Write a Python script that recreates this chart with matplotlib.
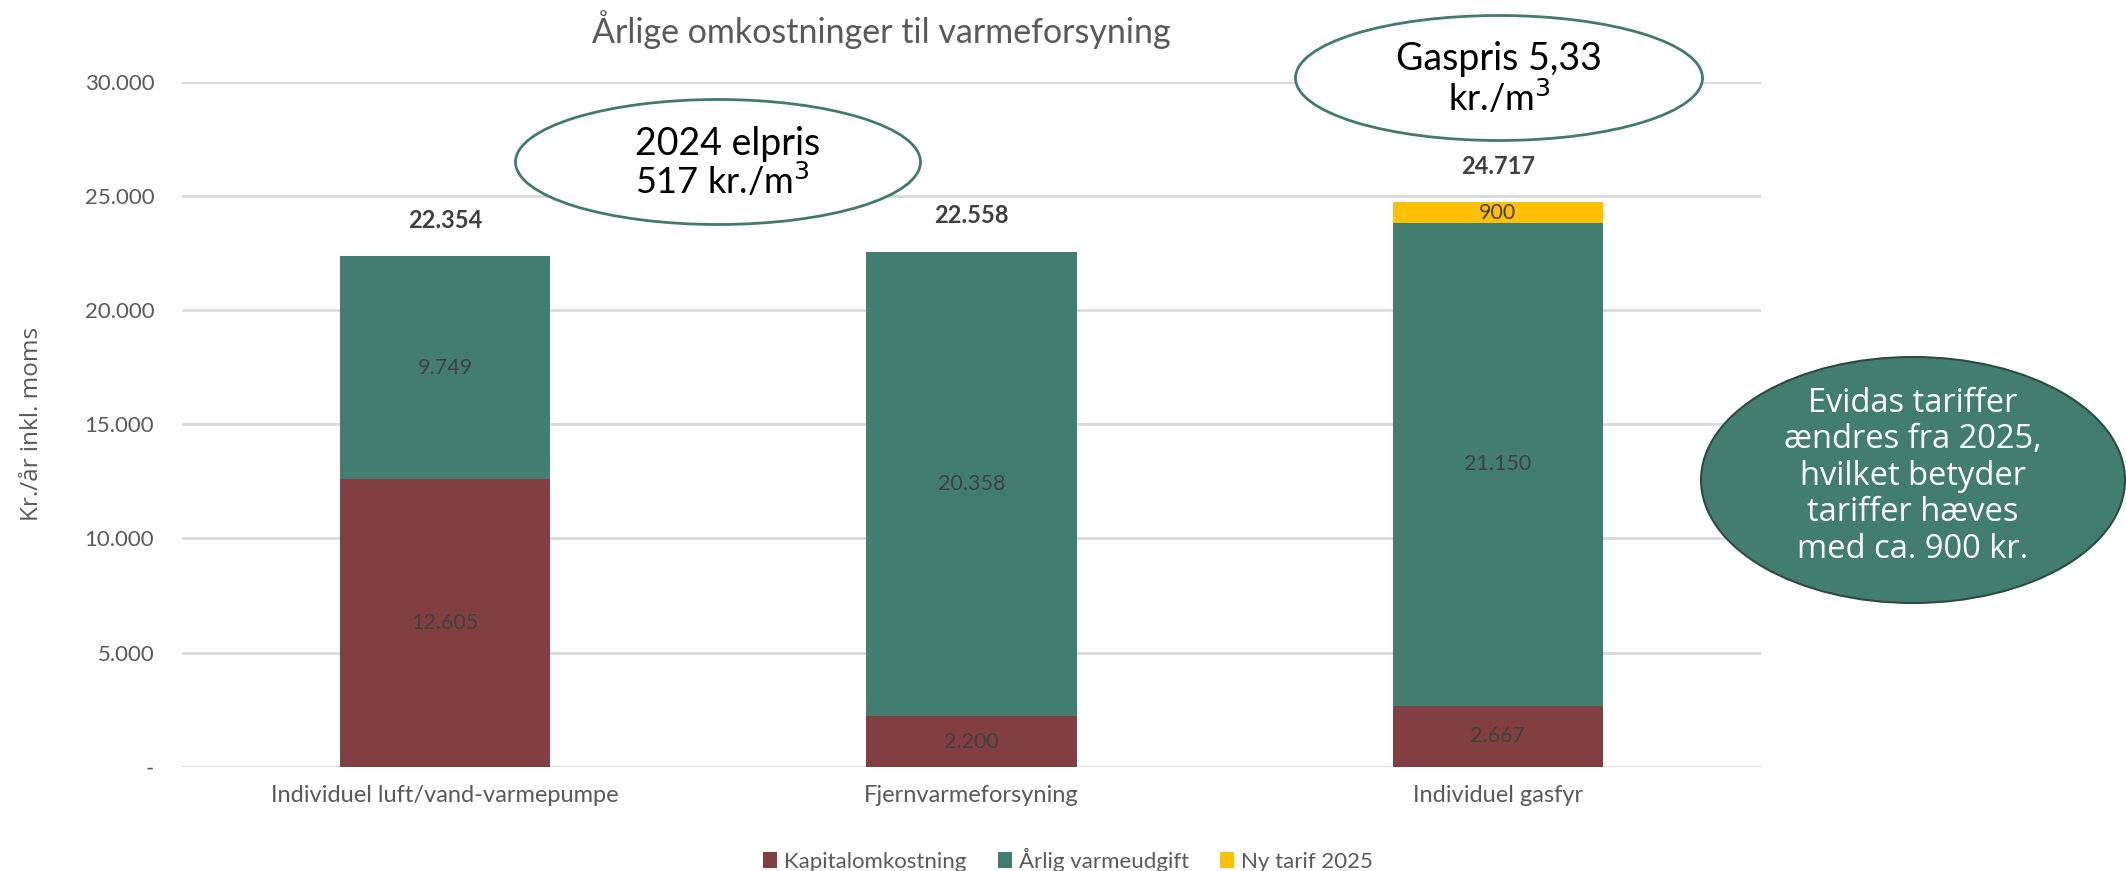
import matplotlib
matplotlib.use("Agg")
import matplotlib.pyplot as plt
from matplotlib.patches import Ellipse, Patch
import numpy as np

categories = ["Individuel luft/vand-varmepumpe", "Fjernvarmeforsyning", "Individuel gasfyr"]
kapital = [12605, 2200, 2667]
varme = [9749, 20358, 21150]
tarif = [0, 0, 900]
series_names = ["Kapitalomkostning", "Årlig varmeudgift", "Ny tarif 2025"]
yticks = [0, 5000, 10000, 15000, 20000, 25000, 30000]

C_KAP = "#823F41"
C_VAR = "#417E6F"
C_TAR = "#FFC000"
TXT = "#595959"
LBL = "#404040"

plt.rcParams["font.family"] = ["Lato", "DejaVu Sans"]

W, H = 2126, 871
fig = plt.figure(figsize=(W / 100, H / 100), dpi=100)
ax = fig.add_axes([182 / W, 1 - 766.7 / H, (1761 - 182) / W, (766.7 - 81.7) / H])

x = np.arange(len(categories))
bw = 0.4
ax.bar(x, kapital, bw, color=C_KAP, zorder=3)
ax.bar(x, varme, bw, bottom=kapital, color=C_VAR, zorder=3)
bottom3 = [a + b for a, b in zip(kapital, varme)]
ax.bar(x, tarif, bw, bottom=bottom3, color=C_TAR, zorder=3)

def fmt(v):
    if v == 0:
        return "-"
    return f"{v:,.0f}".replace(",", ".")

for i in range(len(categories)):
    ax.text(x[i], kapital[i] / 2, fmt(kapital[i]), ha="center", va="center",
            fontsize=15.5, color=LBL, zorder=4)
    ax.text(x[i], kapital[i] + varme[i] / 2, fmt(varme[i]), ha="center", va="center",
            fontsize=15.5, color=LBL, zorder=4)
    if tarif[i] > 0:
        ax.text(x[i], bottom3[i] + tarif[i] / 2, fmt(tarif[i]), ha="center", va="center",
                fontsize=15.5, color=LBL, zorder=4)
    total = kapital[i] + varme[i] + tarif[i]
    ax.annotate(fmt(total), (x[i], total), xytext=(0, 26), textcoords="offset points",
                ha="center", va="center", fontsize=17, fontweight="bold", color=LBL, zorder=4)

ax.set_xlim(-0.5, 2.5)
ax.set_ylim(0, 30000)
ax.set_yticks(yticks)
ax.set_yticklabels([fmt(v) for v in yticks], fontsize=16, color=TXT)
ax.set_xticks(x)
ax.set_xticklabels(categories, fontsize=17, color=TXT)
ax.tick_params(axis="y", length=0, pad=20)
ax.tick_params(axis="x", length=0, pad=13)
ax.grid(axis="y", color="#D9D9D9", linewidth=2, zorder=0)
for s in ax.spines.values():
    s.set_visible(False)

ax.set_ylabel("Kr./år inkl. moms", fontsize=17.5, color=TXT, family=["Open Sans", "DejaVu Sans"])
ax.yaxis.set_label_coords((44 - 182) / (1761 - 182), (766.7 - 424) / (766.7 - 81.7))

fig.text(881 / W, 1 - 30 / H, "Årlige omkostninger til varmeforsyning", ha="center", va="center",
         fontsize=24.5, color=TXT)

handles = [Patch(facecolor=c) for c in (C_KAP, C_VAR, C_TAR)]
fig.legend(handles, series_names, loc="center", bbox_to_anchor=(1068 / W, 1 - 860 / H), ncol=3,
           frameon=False, fontsize=16, labelcolor=TXT, handlelength=0.65, handleheight=0.75,
           handletextpad=0.3, columnspacing=1.4)

def fe(cx, cy, w, h, **kw):
    e = Ellipse((cx / W, 1 - cy / H), w / W, h / H, transform=fig.transFigure, **kw)
    fig.add_artist(e)

fe(718, 162, 405, 125, facecolor="white", edgecolor="#3E7C6E", linewidth=2, zorder=5)
fig.text(728 / W, 1 - 144 / H, "2024 elpris", ha="center", va="center", fontsize=27, color="black", zorder=6)
fig.text(722 / W, 1 - 181 / H, "517 kr./m$^3$", ha="center", va="center", fontsize=26, color="black", zorder=6)

fe(1499, 78, 407, 125, facecolor="white", edgecolor="#3E7C6E", linewidth=2, zorder=5)
fig.text(1499 / W, 1 - 59 / H, "Gaspris 5,33", ha="center", va="center", fontsize=27, color="black", zorder=6)
fig.text(1499 / W, 1 - 98 / H, "kr./m$^3$", ha="center", va="center", fontsize=26, color="black", zorder=6)

fe(1913, 480, 424, 246, facecolor=C_VAR, edgecolor="#2D4A44", linewidth=1.5, zorder=5)
fig.text(1913 / W, 1 - 476 / H,
         "Evidas tariffer\nændres fra 2025,\nhvilket betyder\ntariffer hæves\nmed ca. 900 kr.",
         ha="center", va="center", fontsize=23.5, color="white", family=["Open Sans", "DejaVu Sans"],
         linespacing=1.14, zorder=6)

fig.savefig("out.png", dpi=100)
